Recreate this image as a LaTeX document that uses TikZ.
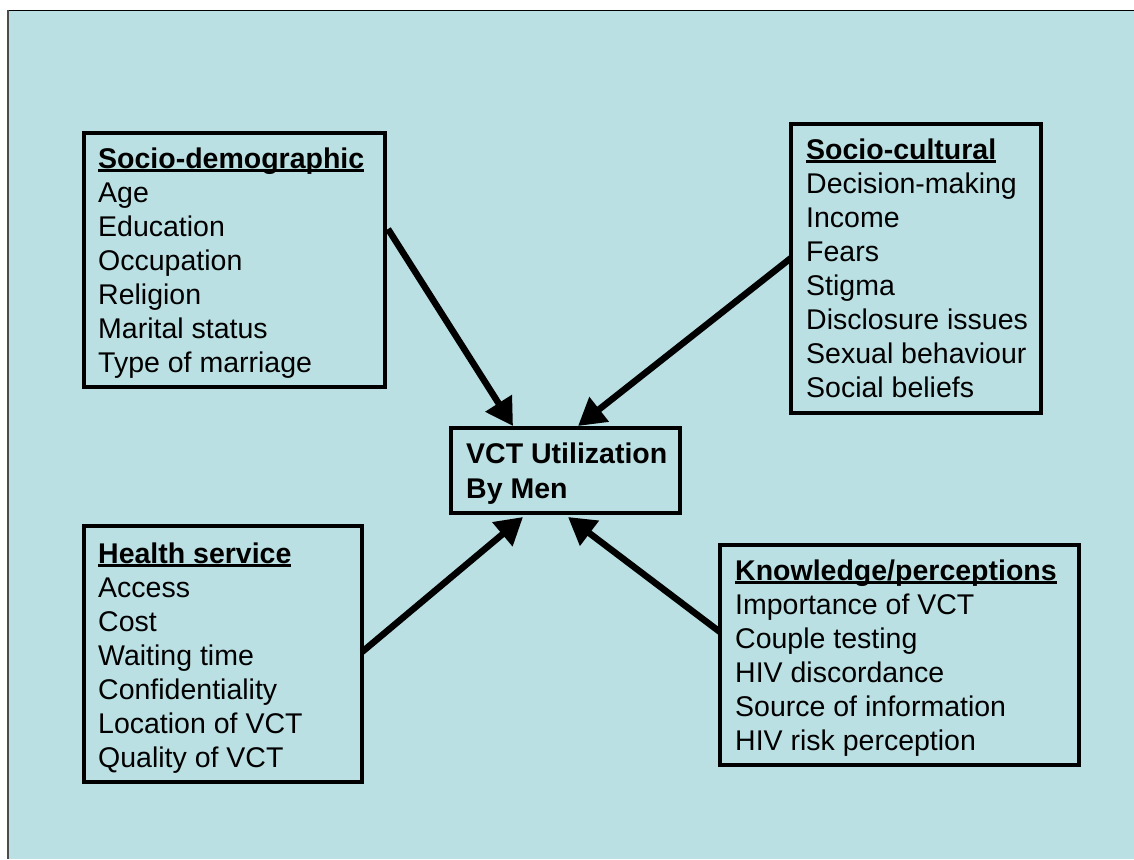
\documentclass[tikz,border=0pt]{standalone}
\usepackage{fontspec}
\setmainfont{Liberation Sans}
\usetikzlibrary{arrows.meta}
\definecolor{bgblue}{RGB}{187,224,227}
\newcommand\myul[1]{\setbox0\hbox{#1}\rlap{\rule[-4pt]{\wd0}{2.8pt}}\box0}
\newcommand\boxtext[1]{\fontsize{28.5pt}{34pt}\selectfont\begin{tabular}[t]{@{}l@{}}#1\end{tabular}}
\begin{document}
\begin{tikzpicture}[x=1pt,y=-1pt,
  box/.style={draw=black,line width=4.8pt,fill=bgblue,inner sep=0pt,rectangle},
  txt/.style={anchor=base west,inner sep=0pt,align=left},
  arr/.style={line width=6.5pt,-{Triangle[length=27pt,width=30pt]}}]
\useasboundingbox (0,0) rectangle (1134,859);
\fill[bgblue] (7,10) rectangle (1134,859);
\draw[black,line width=1.2pt] (7,10.5) -- (1134,10.5);
\draw[black!70,line width=2pt] (8,10) -- (8,859);

\node[box,minimum width=301pt,minimum height=254pt] (sd) at (234.5,260) {};
\node[box,minimum width=250pt,minimum height=289pt] (sc) at (916,268.5) {};
\node[box,minimum width=229pt,minimum height=85pt] (vct) at (565.5,470.5) {};
\node[box,minimum width=278pt,minimum height=256pt] (hs) at (223,654) {};
\node[box,minimum width=359pt,minimum height=220pt] (kp) at (899.5,655) {};

\node[txt] (sdt) at (98,168) {\boxtext{\myul{\textbf{Socio-demographic}}\\Age\\Education\\Occupation\\Religion\\Marital status\\Type of marriage}};
\node[txt] (sct) at (806,159) {\boxtext{\myul{\textbf{Socio-cultural}}\\Decision-making\\Income\\Fears\\Stigma\\Disclosure issues\\Sexual behaviour\\Social beliefs}};
\node[txt] (vctt) at (466,463) {\boxtext{\textbf{VCT Utilization}\\[1pt]\textbf{By Men}}};
\node[txt] (hst) at (98,563) {\boxtext{\myul{\textbf{Health service}}\\Access\\Cost\\Waiting time\\Confidentiality\\Location of VCT\\Quality of VCT}};
\node[txt] (kpt) at (735,580) {\boxtext{\myul{\textbf{Knowledge/perceptions}}\\Importance of VCT\\Couple testing\\HIV discordance\\Source of information\\HIV risk perception}};

\coordinate (s1) at (388,229);
\coordinate (e1) at (513,426);
\coordinate (s2) at (791,258);
\coordinate (e2) at (578,426);
\coordinate (s3) at (362,652);
\coordinate (e3) at (523,517);
\coordinate (s4) at (720,632);
\coordinate (e4) at (568,517);
\draw[arr] (s1) -- (e1);
\draw[arr] (s2) -- (e2);
\draw[arr] (s3) -- (e3);
\draw[arr] (s4) -- (e4);
\end{tikzpicture}
\end{document}
